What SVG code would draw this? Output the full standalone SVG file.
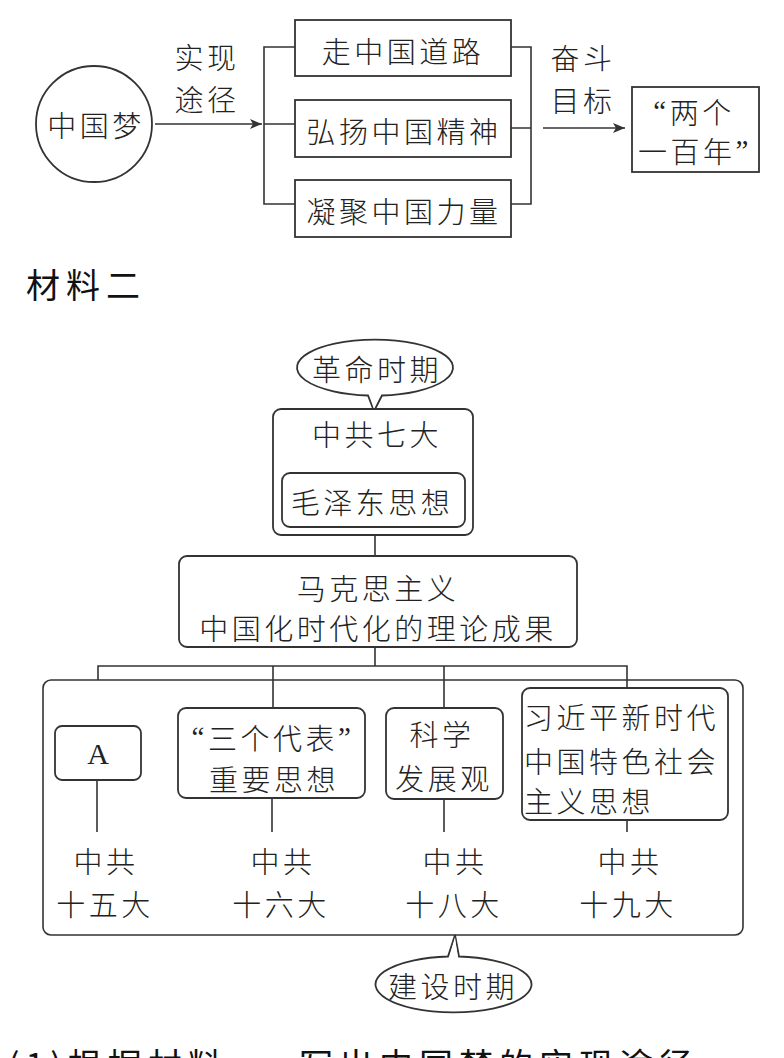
<svg xmlns="http://www.w3.org/2000/svg" width="784" height="1058" viewBox="0 0 784 1058">
<style>
.t{font-family:"Noto Sans CJK SC","Noto Sans",sans-serif;font-size:29px;fill:#222;letter-spacing:3.5px;dominant-baseline:central;text-anchor:middle;font-weight:300}
.tl{text-anchor:start}
.s{fill:none;stroke:#333;stroke-width:1.6}
.b{fill:#fff;stroke:#333;stroke-width:1.8}
.h{font-family:"Noto Sans CJK SC","Noto Sans",sans-serif;font-size:34px;fill:#111;letter-spacing:6px;font-weight:400}
</style>
<defs>
<marker id="ar" viewBox="0 0 12 10" refX="12" refY="5" markerWidth="12" markerHeight="10" markerUnits="userSpaceOnUse" orient="auto">
<path d="M0,0 L12,5 L0,10 L3,5 Z" fill="#333"/>
</marker>
</defs>
<rect width="784" height="1058" fill="#fff"/>

<g id="connectors">
<line class="s" x1="155" y1="124" x2="262" y2="124" marker-end="url(#ar)"/>
<path class="s" d="M295,47 H264 V204 H295 M264,124 H295"/>
<path class="s" d="M511,47 H531 V204 H511 M511,128 H531"/>
<line class="s" x1="543" y1="128" x2="625" y2="128" marker-end="url(#ar)"/>
<line class="s" x1="376" y1="452" x2="376" y2="473"/>
<line class="s" x1="375" y1="535" x2="375" y2="556"/>
<line class="s" x1="375" y1="647" x2="375" y2="666"/>
<path class="s" d="M98,680 V666 H627 V688 M273,666 V708 M444,666 V708"/>
<line class="s" x1="97" y1="780" x2="97" y2="832"/>
<line class="s" x1="272" y1="798" x2="272" y2="832"/>
<line class="s" x1="444" y1="799" x2="444" y2="832"/>
<line class="s" x1="627" y1="820" x2="627" y2="832"/>
</g>

<g id="n-dream">
<ellipse class="b" cx="94" cy="124" rx="58" ry="58"/>
<text class="t" x="96" y="124">中国梦</text>
</g>
<g id="l-path">
<text class="t" x="207" y="56">实现</text>
<text class="t" x="207" y="98">途径</text>
</g>
<g id="n-road">
<rect class="b" x="295" y="20" width="216" height="56"/>
<text class="t" x="403" y="50">走中国道路</text>
</g>
<g id="n-spirit">
<rect class="b" x="295" y="100" width="216" height="57"/>
<text class="t" x="404" y="130">弘扬中国精神</text>
</g>
<g id="n-power">
<rect class="b" x="295" y="180" width="216" height="57"/>
<text class="t" x="404" y="210">凝聚中国力量</text>
</g>
<g id="l-goal">
<text class="t" x="583" y="57">奋斗</text>
<text class="t" x="583" y="99">目标</text>
</g>
<g id="n-goal">
<rect class="b" x="632" y="87" width="127" height="85"/>
<text class="t" x="694" y="111" font-size="28"><tspan font-family="Liberation Serif">“</tspan>两个</text>
<text class="t" x="695" y="150" font-size="28">一百年<tspan font-family="Liberation Serif">”</tspan></text>
</g>

<g id="title2">
<text class="h" x="26" y="298">材料二</text>
</g>

<g id="n-revolution">
<path class="b" d="M368,395.5 A78,28 0 1 1 382,395.5 L374,411 Z"/>
<path d="M369,393 L374,409 L381,393 Z" fill="#fff"/>
<text class="t" x="377" y="368">革命时期</text>
</g>
<g id="n-7th">
<rect class="b" x="273" y="409" width="200" height="126" rx="8"/>
<text class="t" x="377" y="433">中共七大</text>
<rect class="b" x="282" y="473" width="183" height="54" rx="8"/>
<text class="t" x="372" y="501">毛泽东思想</text>
</g>
<g id="n-marx">
<rect class="b" x="179" y="556" width="398" height="91" rx="8"/>
<text class="t" x="378" y="587">马克思主义</text>
<text class="t" x="378" y="627">中国化时代化的理论成果</text>
</g>

<g id="n-construction-box">
<rect class="s" x="43" y="680" width="700" height="255" rx="8" fill="none"/>
</g>
<g id="n-A">
<rect class="b" x="55" y="726" width="86" height="54" rx="7"/>
<text x="98" y="764" font-family="Liberation Serif" font-size="30" fill="#222" text-anchor="middle">A</text>
</g>
<g id="n-three">
<rect class="b" x="178" y="708" width="187" height="90" rx="8"/>
<text class="t" x="273" y="737"><tspan font-family="Liberation Serif">“</tspan>三个代表<tspan font-family="Liberation Serif">”</tspan></text>
<text class="t" x="274" y="778">重要思想</text>
</g>
<g id="n-science">
<rect class="b" x="386" y="708" width="117" height="91" rx="8"/>
<text class="t" x="442" y="733">科学</text>
<text class="t" x="444" y="777">发展观</text>
</g>
<g id="n-xi">
<rect class="b" x="522" y="688" width="206" height="132" rx="8"/>
<text class="t tl" x="524" y="716">习近平新时代</text>
<text class="t tl" x="524" y="760">中国特色社会</text>
<text class="t tl" x="524" y="800">主义思想</text>
</g>
<g id="n-15">
<text class="t" x="106" y="860">中共</text>
<text class="t" x="105" y="903">十五大</text>
</g>
<g id="n-16">
<text class="t" x="283" y="860">中共</text>
<text class="t" x="281" y="903">十六大</text>
</g>
<g id="n-18">
<text class="t" x="455" y="860">中共</text>
<text class="t" x="454" y="903">十八大</text>
</g>
<g id="n-19">
<text class="t" x="630" y="860">中共</text>
<text class="t" x="628" y="903">十九大</text>
</g>
<g id="n-construction">
<path class="b" d="M448,956.5 A78,28 0 1 0 459,956.5 L455,935 Z"/>
<path d="M449,959 L455,937 L458,959 Z" fill="#fff"/>
<text class="t" x="453" y="985">建设时期</text>
</g>

<g id="question">
<text class="h" x="8" y="1078" font-size="36" letter-spacing="3">(1)根据材料一，</text>
<text class="h" x="299" y="1078" font-size="36" letter-spacing="3">写出中国梦的实现途径</text>
</g>
</svg>
